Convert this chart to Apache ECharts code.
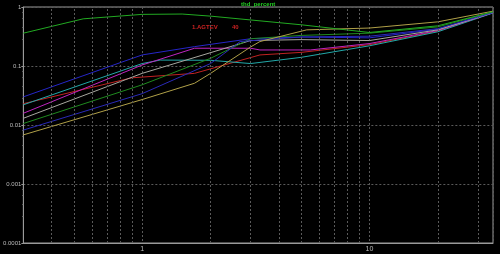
<!DOCTYPE html>
<html><head><meta charset="utf-8">
<script src="https://cdn.jsdelivr.net/npm/echarts@6/dist/echarts.min.js"></script>
<style>html,body{margin:0;padding:0;background:#000}#c{width:500px;height:254px}</style>
</head><body><div id="c"></div>
<script>
// Data (x = frequency, y = thd_percent)
const seriesGreen   = [[0.3,0.36],[0.55,0.63],[1,0.75],[1.5,0.76],[2,0.70],[5,0.50],[10,0.37],[20,0.48],[35,0.83]];
const seriesTan     = [[0.3,0.0068],[1,0.027],[1.7,0.051],[2,0.075],[3,0.21],[3.3,0.26],[5.3,0.41],[10,0.44],[20,0.56],[35,0.85]];
const seriesDkGreen = [[0.3,0.0106],[1,0.048],[2,0.135],[3,0.29],[5,0.33],[10,0.36],[20,0.46],[35,0.82]];
const seriesBlue2   = [[0.3,0.0082],[1,0.034],[2,0.11],[2.7,0.26],[5,0.31],[10,0.32],[20,0.43],[35,0.80]];
const seriesBlue1   = [[0.3,0.030],[1,0.154],[1.7,0.213],[3,0.29],[5,0.31],[10,0.30],[20,0.42],[35,0.81]];
const seriesGray    = [[0.3,0.013],[1,0.075],[3,0.27],[5,0.28],[10,0.27],[20,0.41],[35,0.80]];
const seriesMagenta = [[0.3,0.0158],[1,0.104],[1.7,0.20],[3,0.20],[3.3,0.187],[5.5,0.187],[10,0.24],[20,0.40],[35,0.80]];
const seriesRed     = [[0.3,0.023],[0.9,0.063],[1.7,0.075],[3.3,0.154],[5,0.17],[10,0.23],[20,0.39],[35,0.80]];
const seriesTeal    = [[0.3,0.022],[1,0.11],[1.2,0.126],[2,0.125],[3,0.11],[5,0.14],[10,0.22],[20,0.38],[35,0.79]];
const minorGridX = [0.4,0.5,0.6,0.7,0.8,0.9,2,3,4,5,6,7,8,9,20,30];
const xTickLabels = [1,10];
const yTickLabels = ['1','0.1','0.01','0.001','0.0001'];

const defs = [
  [seriesBlue1,'#2626c8'],[seriesRed,'#c02222'],[seriesTeal,'#22a8a8'],
  [seriesMagenta,'#c024c0'],[seriesGray,'#a8a8a0'],[seriesDkGreen,'#1f8a1f'],
  [seriesBlue2,'#2a2ab8'],[seriesTan,'#b0a048'],[seriesGreen,'#22aa22']
];
const series = defs.map(([d,c]) => ({
  type:'line', data:d, symbol:'none', lineStyle:{color:c,width:1}, silent:true, animation:false
}));
series.push({
  type:'line', data:[], silent:true, animation:false,
  markLine:{silent:true, symbol:'none', label:{show:false},
    lineStyle:{color:'#5a5a5a',type:[2,2],width:1},
    data:minorGridX.map(v=>({xAxis:v}))}
});

const chart = echarts.init(document.getElementById('c'));
chart.setOption({
  backgroundColor:'#000',
  animation:false,
  grid:{left:20,right:7,top:7,bottom:11,show:true,borderColor:'#9a9a9a',borderWidth:1},
  xAxis:{type:'log',logBase:10,min:0.3,max:35,
    axisLine:{show:true,lineStyle:{color:'#9a9a9a'}},
    axisTick:{show:false},
    axisLabel:{color:'#bbb',fontSize:7,fontFamily:'Liberation Sans',margin:3,
      formatter:v=> xTickLabels.some(t=>Math.abs(t-v)<1e-9)? String(v):'' },
    splitLine:{show:true,lineStyle:{color:'#5a5a5a',type:[2,2]}}
  },
  yAxis:{type:'log',logBase:10,min:0.0001,max:1,
    axisLine:{show:true,lineStyle:{color:'#9a9a9a'}},
    axisTick:{show:true,length:2,lineStyle:{color:'#9a9a9a'}},
    minorTick:{show:true,splitNumber:5,length:1,lineStyle:{color:'#777'}},
    axisLabel:{color:'#bbb',fontSize:6,fontFamily:'Liberation Sans',margin:2,
      formatter:v=>{const e=Math.round(Math.log10(v));return yTickLabels[-e]||'';}},
    splitLine:{show:true,lineStyle:{color:'#5a5a5a',type:[2,2]}}
  },
  graphic:[
    {type:'text',left:241,top:1,style:{text:'thd_percent',fill:'#22cc22',font:'bold 6px "Liberation Sans"'}},
    {type:'text',left:192,top:24,style:{text:'1.AGTEV',fill:'#cc2222',font:'bold 6px "Liberation Sans"'}},
    {type:'text',left:232,top:24,style:{text:'40',fill:'#cc2222',font:'bold 6px "Liberation Sans"'}}
  ],
  series:series
});
</script></body></html>
